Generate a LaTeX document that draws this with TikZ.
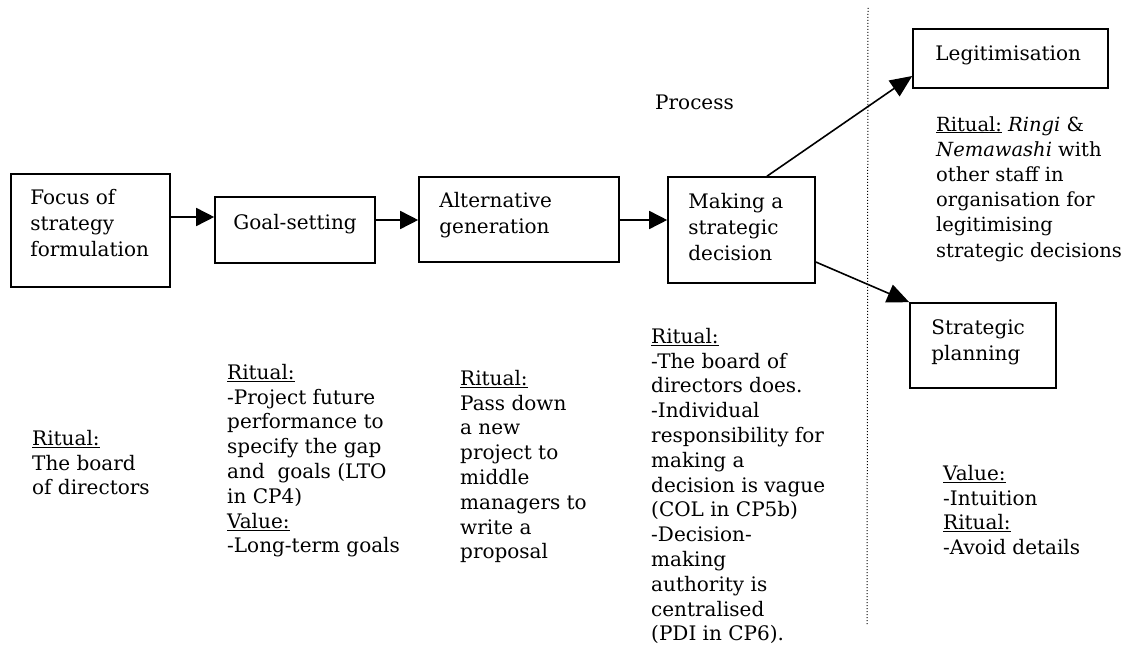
\documentclass[tikz,border=0pt]{standalone}
\usepackage{fontspec}
\setmainfont{DejaVu Serif}
\usetikzlibrary{arrows.meta}
\begin{document}
\begin{tikzpicture}[x=1pt,y=-1pt,
  box/.style={draw, line width=1.6pt, rectangle, inner sep=0pt},
  boxtext/.style={anchor=north west, inner sep=0pt, align=left, font=\fontsize{20}{26}\selectfont},
  note/.style={anchor=north west, inner sep=0pt, align=left, font=\fontsize{20}{24.8}\selectfont},
  flow/.style={line width=1.6pt, -{Triangle[length=18pt,width=18pt]}},
  branch/.style={line width=1.6pt, -{Triangle[length=22pt,width=19pt]}},
  divider/.style={dotted, line width=1pt}]
\useasboundingbox (0,0) rectangle (1128,647);

% process boxes
\node[box, minimum width=159pt, minimum height=113pt] (focus)  at (90.5,230.5) {};
\node[box, minimum width=160pt, minimum height=66pt]  (goal)   at (295,230) {};
\node[box, minimum width=200pt, minimum height=85pt]  (alt)    at (519,219.5) {};
\node[box, minimum width=147pt, minimum height=106pt] (making) at (741.5,230) {};
\node[box, minimum width=195pt, minimum height=59pt]  (legit)  at (1010.5,58.5) {};
\node[box, minimum width=146pt, minimum height=85pt]  (plan)   at (983,345.5) {};

% box captions
\node[boxtext] (focustxt)  at ([shift={(20,16)}]focus.north west) {Focus of\\strategy\\formulation};
\node[boxtext] (goaltxt)   at ([shift={(19,18)}]goal.north west) {Goal-setting};
\node[boxtext] (alttxt)    at ([shift={(21,16)}]alt.north west) {Alternative\\generation};
\node[boxtext] (makingtxt) at ([shift={(21,17)}]making.north west) {Making a\\strategic\\decision};
\node[boxtext] (legittxt)  at ([shift={(23,17)}]legit.north west) {Legitimisation};
\node[boxtext] (plantxt)   at ([shift={(22,17)}]plan.north west) {Strategic\\planning};

\node[boxtext] (process) at (655,95) {Process};

% connectors
\draw[flow] (focus.east |- 0,217) -- (goal.west |- 0,217);
\draw[flow] (goal.east |- 0,220) -- (alt.west |- 0,220);
\draw[flow] (alt.east |- 0,220) -- (making.west |- 0,220);
\draw[branch] (767,0 |- making.north) -- (legit.west |- 0,76);
\draw[branch] (making.east |- 0,262) -- (plan.north west);

% dotted divider
\coordinate (divtop) at (868,8);
\coordinate (divbot) at (867,625);
\draw[divider] (divtop) -- (divbot);

% rituals and values
\node[note] (n1) at (32,430) {\underline{Ritual:}\\The board\\of directors};
\node[note] (n2) at (227,364) {\underline{Ritual:}\\-Project future\\performance to\\specify the gap\\and\ \ goals (LTO\\in CP4)\\\underline{Value:}\\-Long-term goals};
\node[note] (n3) at (460,370) {\underline{Ritual:}\\Pass down\\a new\\project to\\middle\\managers to\\write a\\proposal};
\node[note] (n4) at (651,328) {\underline{Ritual:}\\-The board of\\directors does.\\-Individual\\responsibility for\\making a\\decision is vague\\(COL in CP5b)\\-Decision-\\making\\authority is\\centralised\\(PDI in CP6).};
\node[note, font=\fontsize{19.5}{25.2}\selectfont] (n5) at (936,116) {\underline{Ritual:} \textit{Ringi} \&\\\textit{Nemawashi} with\\other staff in\\organisation for\\legitimising\\strategic decisions};
\node[note] (n6) at (943,465) {\underline{Value:}\\-Intuition\\\underline{Ritual:}\\-Avoid details};
\end{tikzpicture}
\end{document}
